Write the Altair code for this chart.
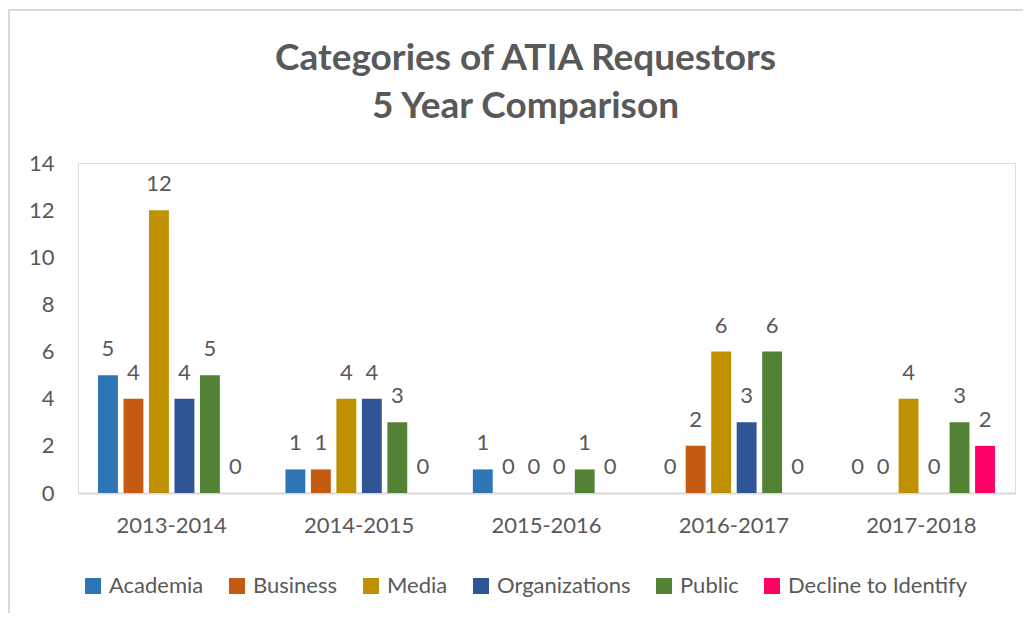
import altair as alt
import pandas as pd

years = ["2013-2014", "2014-2015", "2015-2016", "2016-2017", "2017-2018"]
series = ["Academia", "Business", "Media", "Organizations", "Public", "Decline to Identify"]
academia = [5, 1, 1, 0, 0]
business = [4, 1, 0, 2, 0]
media = [12, 4, 0, 6, 4]
organizations = [4, 4, 0, 3, 0]
public = [5, 3, 1, 6, 3]
decline = [0, 0, 0, 0, 2]
colors = ["#2E75B6", "#C55A11", "#BF9000", "#2F5597", "#548235", "#FF0066"]

values_by_series = [academia, business, media, organizations, public, decline]
rows = []
for s, vals in zip(series, values_by_series):
    for y, v in zip(years, vals):
        rows.append({"year": y, "cat": s, "value": v})
df = pd.DataFrame(rows)

FONT = "Lato"
TXT = "#595959"

x_enc = alt.X("year:N", sort=years, title=None,
              scale=alt.Scale(paddingInner=0.184, paddingOuter=0.092),
              axis=alt.Axis(labelAngle=0, ticks=False, tickSize=0, labelPadding=22,
                            domainColor="#D9D9D9", domainWidth=2,
                            labelFont=FONT, labelFontSize=22, labelColor=TXT))
xo_enc = alt.XOffset("cat:N", scale=alt.Scale(domain=series, paddingInner=0.22, paddingOuter=0.11))
y_enc = alt.Y("value:Q", title=None,
              scale=alt.Scale(domain=[0, 14], nice=False),
              axis=alt.Axis(values=list(range(0, 15, 2)), grid=False, domain=False,
                            ticks=False, tickSize=0, labelPadding=24,
                            labelFont=FONT, labelFontSize=22, labelColor=TXT))

bars = alt.Chart(df).mark_bar().encode(
    x=x_enc,
    xOffset=xo_enc,
    y=y_enc,
    color=alt.Color("cat:N", scale=alt.Scale(domain=series, range=colors),
                    legend=alt.Legend(title=None, orient="none", direction="horizontal",
                                      legendX=4, legendY=412, columns=6,
                                      symbolType="square", symbolSize=256,
                                      symbolStrokeWidth=0, symbolOpacity=1,
                                      labelFont=FONT, labelFontSize=22, labelColor=TXT,
                                      labelLimit=0, labelOffset=5, columnPadding=22)),
)

labels = alt.Chart(df).mark_text(font=FONT, fontSize=22, color=TXT, dy=-19,
                                 baseline="alphabetic").encode(
    x=alt.X("year:N", sort=years),
    xOffset=alt.XOffset("cat:N", scale=alt.Scale(domain=series)),
    y=alt.Y("value:Q"),
    text=alt.Text("value:Q"),
)

frame_data = alt.Data(values=[{"k": 1}])
left_border = alt.Chart(frame_data).mark_rule(color="#D9D9D9", strokeWidth=2, clip=False).encode(
    x=alt.value(-69), y=alt.value(-154), y2=alt.value(460))
top_border = alt.Chart(frame_data).mark_rule(color="#D9D9D9", strokeWidth=2, clip=False).encode(
    x=alt.value(-69), x2=alt.value(960), y=alt.value(-153))

chart = alt.layer(bars, labels, left_border, top_border).properties(
    width=937, height=330,
    autosize=alt.AutoSizeParams(type="none"),
    padding={"left": 70, "top": 155, "right": 8, "bottom": 120},
    title=alt.TitleParams(text=["Categories of ATIA Requestors", "5 Year Comparison"],
                          font=FONT, fontSize=37, fontWeight="bold", color=TXT,
                          anchor="middle", lineHeight=48, offset=-118, dx=-21),
).configure_view(stroke=None).configure(background="white")

chart.save("out.html", embed_options={"renderer": "svg", "actions": False})
